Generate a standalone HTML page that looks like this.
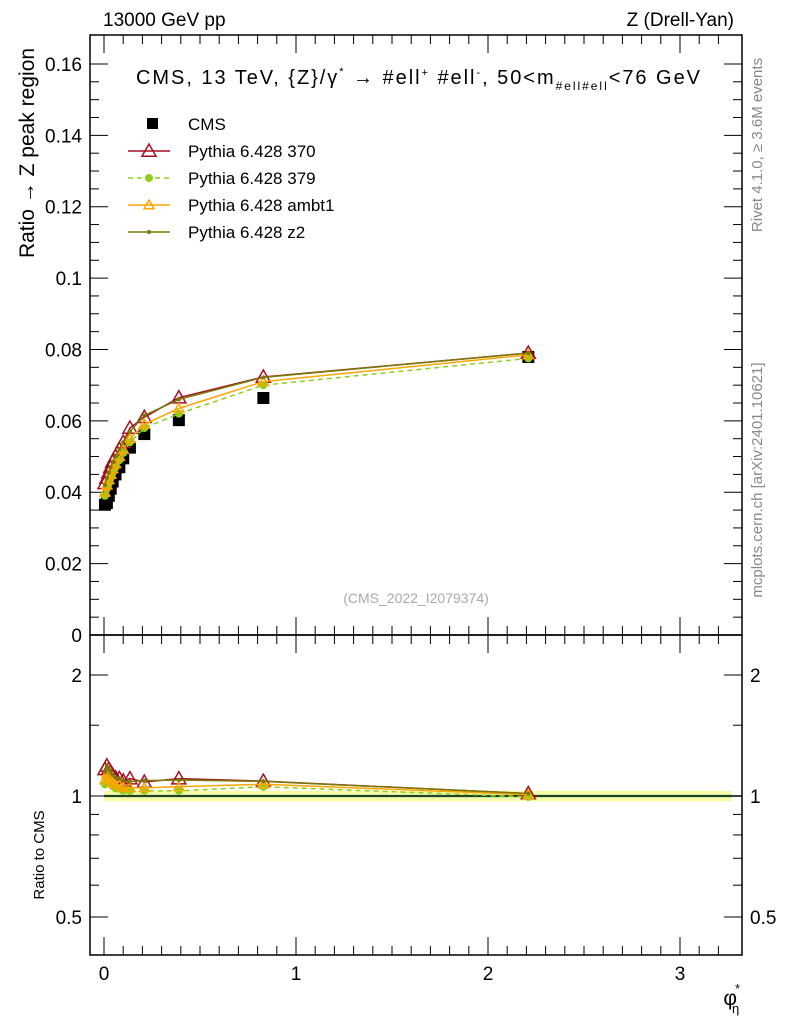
<!DOCTYPE html>
<html><head><meta charset="utf-8"><style>
body{margin:0;background:#fff;}
svg{display:block;font-family:"Liberation Sans",sans-serif;}
</style></head><body>
<svg id="c" width="786" height="1024" viewBox="0 0 786 1024">
<text x="103" y="26" font-size="19">13000 GeV pp</text>
<text x="734" y="26" font-size="19" text-anchor="end">Z (Drell-Yan)</text>
<text x="136" y="84" font-size="20" textLength="564" lengthAdjust="spacing">CMS, 13 TeV, {Z}/γ<tspan font-size="11" dy="-9">*</tspan><tspan dy="9">  →  #ell</tspan><tspan font-size="11" dy="-8">+</tspan><tspan dy="8"> #ell</tspan><tspan font-size="11" dy="-8">-</tspan><tspan dy="8">, 50&lt;m</tspan><tspan font-size="12" dy="6">#ell#ell</tspan><tspan dy="-6">&lt;76 GeV</tspan></text>
<text x="34" y="153" font-size="21" transform="rotate(-90 34 153)" text-anchor="middle">Ratio → Z peak region</text>
<text x="44" y="855" font-size="15" transform="rotate(-90 44 855)" text-anchor="middle">Ratio to CMS</text>
<text x="762" y="145" font-size="15" fill="#888" transform="rotate(-90 762 145)" text-anchor="middle">Rivet 4.1.0, ≥ 3.6M events</text>
<text x="762" y="480" font-size="15" fill="#888" transform="rotate(-90 762 480)" text-anchor="middle">mcplots.cern.ch [arXiv:2401.10621]</text>
<text x="416" y="603" font-size="14" fill="#aaa" text-anchor="middle">(CMS_2022_I2079374)</text>
<text x="740" y="1005" font-size="21" text-anchor="end">φ<tspan font-size="13" dy="-12" dx="-2">*</tspan><tspan font-size="13" dy="20" dx="-8">η</tspan></text>
<g id="g"></g>
</svg>
<script>
const xs=[0.005,0.015,0.025,0.035,0.045,0.06,0.08,0.1,0.135,0.21,0.39,0.83,2.21];
const cms=[0.0365,0.037,0.039,0.041,0.043,0.045,0.047,0.0495,0.0525,0.0563,0.0602,0.0664,0.0779];
const p370=[0.0425,0.044,0.0455,0.047,0.0485,0.050,0.052,0.054,0.058,0.061,0.0665,0.0723,0.079];
const p379=[0.039,0.041,0.0425,0.044,0.0455,0.047,0.049,0.051,0.054,0.058,0.062,0.070,0.0775];
const pambt1=[0.040,0.042,0.0435,0.045,0.0465,0.048,0.050,0.052,0.055,0.059,0.0635,0.071,0.0785];
const pz2=[0.042,0.044,0.0455,0.047,0.0485,0.050,0.052,0.054,0.057,0.0615,0.066,0.0722,0.079];
const yTicks=[0,0.02,0.04,0.06,0.08,0.1,0.12,0.14,0.16];
const yTickLabels=["0","0.02","0.04","0.06","0.08","0.1","0.12","0.14","0.16"];
const xTicks=[0,1,2,3];
const rTicks=[0.5,1,2];
const NS="http://www.w3.org/2000/svg";
const g=document.getElementById('g');
const L=90,R=742,T=35,M=635,B=955;
const X=v=>104+v*192;
const Y=v=>635-v*3569;
const RY=v=>796-Math.log2(v)*121;
function el(t,a,p){const e=document.createElementNS(NS,t);for(const k in a)e.setAttribute(k,a[k]);(p||g).appendChild(e);return e;}
let b=el('rect',{x:X(0),y:RY(1.03),width:X(3.3)-X(0)-6,height:RY(0.97)-RY(1.03),fill:'#f7f9a8'});


let b2=el('rect',{x:X(0),y:RY(1.01),width:X(3.3)-X(0)-6,height:RY(0.99)-RY(1.01),fill:'#b4ee9a'});


let f1=el('rect',{x:L,y:T,width:R-L,height:M-T,fill:'none',stroke:'#000','stroke-width':1.5});


let f2=el('rect',{x:L,y:M,width:R-L,height:B-M,fill:'none',stroke:'#000','stroke-width':1.5});


for(let i=0;i<yTicks.length;i++){const y=Y(yTicks[i]);
 el('line',{x1:L,x2:L+18,y1:y,y2:y,stroke:'#000'});el('line',{x1:R,x2:R-18,y1:y,y2:y,stroke:'#000'});
 let t=el('text',{x:82,y:y+7,'font-size':19,'text-anchor':'end'});t.textContent=yTickLabels[i];
 
 
 if(i<yTicks.length-1)for(let k=1;k<4;k++){const yy=Y(yTicks[i]+k*0.005);el('line',{x1:L,x2:L+9,y1:yy,y2:yy,stroke:'#000'});el('line',{x1:R,x2:R-9,y1:yy,y2:yy,stroke:'#000'});}
}
for(const v of xTicks){const x=X(v);
 for(const [y0,d] of [[M,-1],[B,-1],[T,1],[M,1]]){el('line',{x1:x,x2:x,y1:y0,y2:y0+d*18,stroke:'#000'});}
 let t=el('text',{x:x,y:980,'font-size':19,'text-anchor':'middle'});t.textContent=String(v);
 
 
}
for(let v=0.1;v<3.3;v+=0.1){if(Math.abs(v-Math.round(v))<0.01)continue;const x=X(v);
 for(const [y0,d] of [[M,-1],[B,-1],[T,1],[M,1]])el('line',{x1:x,x2:x,y1:y0,y2:y0+d*9,stroke:'#000'});}
for(const v of rTicks){const y=RY(v);
 el('line',{x1:L,x2:L+18,y1:y,y2:y,stroke:'#000'});el('line',{x1:R,x2:R-18,y1:y,y2:y,stroke:'#000'});
 let t=el('text',{x:82,y:y+7,'font-size':19,'text-anchor':'end'});t.textContent=String(v);
 
 
 let t2=el('text',{x:750,y:y+7,'font-size':19});t2.textContent=String(v);
 
 
}
for(const v of [0.6,0.7,0.8,0.9,1.5]){const y=RY(v);el('line',{x1:L,x2:L+9,y1:y,y2:y,stroke:'#000'});el('line',{x1:R,x2:R-9,y1:y,y2:y,stroke:'#000'});}
el('line',{x1:X(0),x2:R,y1:RY(1),y2:RY(1),stroke:'#000','stroke-width':1.5});
const series=[
 {name:'370',d:p370,c:'#a50f24',dash:'',m:'tri',ms:7},
 {name:'379',d:p379,c:'#8fcf1a',dash:'5,4',m:'star',ms:4},
 {name:'ambt1',d:pambt1,c:'#ffa500',dash:'',m:'tri',ms:5},
 {name:'z2',d:pz2,c:'#7a7a00',dash:'',m:'dot',ms:2}];
function marker(x,y,s){
 if(s.m==='tri'){const r=s.ms;el('polygon',{points:`${x},${y-r} ${x-r},${y+r*0.75} ${x+r},${y+r*0.75}`,fill:'none',stroke:s.c,'stroke-width':1.5});}
 else el('circle',{cx:x,cy:y,r:s.ms,fill:s.c});
}
for(let i=0;i<xs.length;i++){let r=el('rect',{x:X(xs[i])-6,y:Y(cms[i])-6,width:12,height:12,fill:'#000'});
 
 }
for(const s of series){
 let p=el('polyline',{points:xs.map((x,i)=>X(x)+','+Y(s.d[i])).join(' '),fill:'none',stroke:s.c,'stroke-width':1.5,'stroke-dasharray':s.dash});
 
 
 let q=el('polyline',{points:xs.map((x,i)=>X(x)+','+RY(s.d[i]/cms[i])).join(' '),fill:'none',stroke:s.c,'stroke-width':1.5,'stroke-dasharray':s.dash});
 
 
 for(let i=0;i<xs.length;i++){marker(X(xs[i]),Y(s.d[i]),s);marker(X(xs[i]),RY(s.d[i]/cms[i]),s);}
}
const legY=[124,151,178,205,232];
let lr=el('rect',{x:147,y:legY[0]-6,width:11,height:11,fill:'#000'});


let lt=el('text',{x:188,y:legY[0]+6,'font-size':17});lt.textContent='CMS';


series.forEach((s,i)=>{const y=legY[i+1];
 el('line',{x1:128,x2:170,y1:y,y2:y,stroke:s.c,'stroke-width':1.5,'stroke-dasharray':s.dash});
 marker(149,y,s);
 let t=el('text',{x:188,y:y+6,'font-size':17});t.textContent='Pythia 6.428 '+s.name;
 
 
});
</script>
</body></html>
